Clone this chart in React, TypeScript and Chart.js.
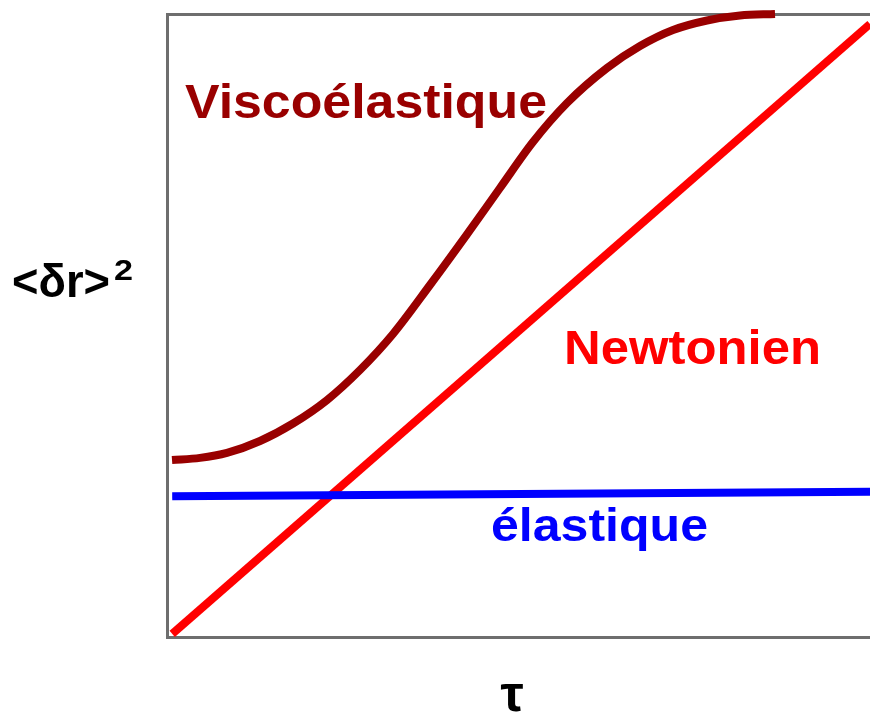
import React, { useEffect, useRef } from "react";
import { Chart, registerables } from "chart.js";

Chart.register(...registerables);

// Data (normalised units: x = τ, y = <δr>²)
const viscoX = [0.57, 4.56, 8.4, 13.11, 17.81, 22.65, 27.35, 32.05, 37.32, 42.59, 47.29, 51.99, 56.84, 62.54, 67.24, 71.94, 76.78, 81.48, 86.47];
const viscoY = [28.41, 28.75, 29.55, 31.46, 34.27, 38.04, 42.86, 48.64, 56.5, 64.63, 72.07, 79.45, 85.71, 91.33, 94.86, 97.43, 98.96, 99.76, 100.0];
const newtonX = [0.6, 100];
const newtonY = [0.5, 98.4];
const elasticX = [0.6, 100];
const elasticY = [22.6, 23.3];

const seriesLabels = ["Viscoélastique", "Newtonien", "élastique"];
const xTitle = "τ";
const yTitle = "<δr>";
const ySup = "2";

const FONT = "'Liberation Sans', Arial, Helvetica, sans-serif";

function drawText(ctx: CanvasRenderingContext2D, text: string, size: number, color: string, left: number, baseline: number, width?: number) {
  ctx.save();
  ctx.font = `bold ${size}px ${FONT}`;
  ctx.fillStyle = color;
  ctx.textBaseline = "alphabetic";
  ctx.textAlign = "left";
  const natural = ctx.measureText(text).width;
  const s = width ? width / natural : 1;
  ctx.translate(left, baseline);
  ctx.scale(s, 1);
  ctx.fillText(text, 0, 0);
  ctx.restore();
}

const framePlugin = {
  id: "frame",
  beforeDatasetsDraw(chart: any) {
    const { ctx, chartArea } = chart;
    ctx.save();
    ctx.strokeStyle = "#6e6e6e";
    ctx.lineWidth = 3;
    ctx.beginPath();
    ctx.moveTo(chart.width + 5, chartArea.top + 0.5);
    ctx.lineTo(chartArea.left - 0.5, chartArea.top + 0.5);
    ctx.lineTo(chartArea.left - 0.5, chartArea.bottom + 0.5);
    ctx.lineTo(chart.width + 5, chartArea.bottom + 0.5);
    ctx.stroke();
    ctx.restore();
  },
  afterDatasetsDraw(chart: any) {
    const { ctx } = chart;
    drawText(ctx, seriesLabels[0], 48, "#990000", 185, 118, 362);
    drawText(ctx, seriesLabels[1], 49, "#ff0000", 564, 364, 257);
    drawText(ctx, seriesLabels[2], 46, "#0000ff", 491, 541, 217);
    drawText(ctx, yTitle, 46, "#000000", 12, 297, 98);
    drawText(ctx, ySup, 30, "#000000", 114, 280, 19);
    ctx.save();
    ctx.font = `bold 52px ${FONT}`;
    ctx.fillStyle = "#000";
    ctx.textAlign = "center";
    ctx.fillText(xTitle, 512, 711);
    ctx.restore();
  },
};

export default function App() {
  const ref = useRef<HTMLCanvasElement | null>(null);
  useEffect(() => {
    if (!ref.current) return;
    const chart = new Chart(ref.current, {
      type: "line",
      data: {
        datasets: [
          {
            label: seriesLabels[2],
            data: elasticX.map((x, i) => ({ x, y: elasticY[i] })),
            borderColor: "#0000ff",
            borderWidth: 8,
            pointRadius: 0,
            borderCapStyle: "butt",
            clip: false as any,
            order: 0,
          },
          {
            label: seriesLabels[1],
            data: newtonX.map((x, i) => ({ x, y: newtonY[i] })),
            borderColor: "#ff0000",
            borderWidth: 8,
            pointRadius: 0,
            borderCapStyle: "butt",
            clip: false as any,
            order: 1,
          },
          {
            label: seriesLabels[0],
            data: viscoX.map((x, i) => ({ x, y: viscoY[i] })),
            borderColor: "#990000",
            borderWidth: 8,
            pointRadius: 0,
            borderCapStyle: "butt",
            cubicInterpolationMode: "monotone",
            clip: false as any,
            order: 2,
          },
        ],
      },
      options: {
        animation: false,
        responsive: false,
        maintainAspectRatio: false,
        layout: { padding: { left: 168, top: 14, right: 0, bottom: 75 } },
        plugins: { legend: { display: false }, tooltip: { enabled: false } },
        scales: {
          x: { type: "linear", min: 0, max: 100, display: false },
          y: { type: "linear", min: 0, max: 100, display: false },
        },
      },
      plugins: [framePlugin],
    });
    return () => chart.destroy();
  }, []);
  return (
    <div style={{ position: "fixed", left: 0, top: 0, width: 870, height: 712, background: "#fff" }}>
      <canvas ref={ref} width={870} height={712} style={{ display: "block", width: 870, height: 712 }} />
    </div>
  );
}
